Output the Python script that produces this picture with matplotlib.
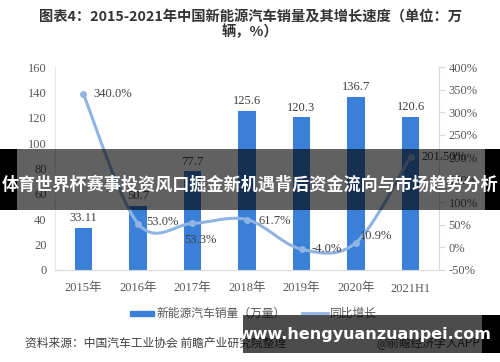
import numpy as np
import matplotlib
matplotlib.use("Agg")
import matplotlib.pyplot as plt
from matplotlib.patches import Rectangle
from matplotlib.lines import Line2D

categories = ["2015年", "2016年", "2017年", "2018年", "2019年", "2020年", "2021H1"]
sales = [33.11, 50.7, 77.7, 125.6, 120.3, 136.7, 120.6]
growth = [340.0, 53.0, 53.3, 61.7, -4.0, 10.9, 201.5]
sales_labels = ["33.11", "50.7", "77.7", "125.6", "120.3", "136.7", "120.6"]
growth_labels = ["340.0%", "53.0%", "53.3%", "61.7%", "-4.0%", "10.9%", "201.50%"]
left_ticks = [0, 20, 40, 60, 80, 100, 120, 140, 160]
right_ticks = [-50, 0, 50, 100, 150, 200, 250, 300, 350, 400]

title = "图表4：2015-2021年中国新能源汽车销量及其增长速度（单位：万\n辆，%）"
banner = "体育世界杯赛事投资风口掘金新机遇背后资金流向与市场趋势分析"
site = "www.hengyuanzuanpei.com"
source = "资料来源：中国汽车工业协会 前瞻产业研究院整理"
brand = "@前瞻经济学人APP"
legend_bar = "新能源汽车销量（万量）"
legend_line = "同比增长"

W, H = 500, 362
CJK = ["Noto Sans CJK SC", "DejaVu Sans"]
SERIF = ["Liberation Serif", "Noto Sans CJK SC"]
plt.rcParams["font.family"] = CJK

fig = plt.figure(figsize=(W / 100, H / 100), dpi=100)
fig.patch.set_facecolor("white")

def fx(px):
    return px / W

def fy(py):
    return 1 - py / H

ax_l, ax_r, ax_t, ax_b = 55, 439, 67, 270
ax = fig.add_axes([fx(ax_l), fy(ax_b), fx(ax_r - ax_l), (ax_b - ax_t) / H])
ax2 = ax.twinx()

x = np.arange(len(categories))
bar_color = "#3b80d8"
line_color = "#8fb4e3"
gray = "#595959"

ax.bar(x, sales, width=0.32, color=bar_color, zorder=2)
ax.set_ylim(0, 160)
ax.set_yticks(left_ticks)
ax.set_xlim(-0.52, 6.52)
ax.set_xticks(x)
ax.set_xticklabels(categories, family=SERIF, fontsize=9, color=gray)
ax.set_yticklabels([str(t) for t in left_ticks], family=SERIF, fontsize=9, color=gray)
ax.tick_params(axis="both", length=0, pad=6)
ax.tick_params(axis="x", pad=9)
for s in ["top", "right"]:
    ax.spines[s].set_visible(False)
ax.spines["left"].set_color("#e6e6e6")
ax.spines["bottom"].set_color("#d9d9d9")
for i, (v, lab) in enumerate(zip(sales, sales_labels)):
    ax.text(i, v + 3, lab, ha="center", va="bottom", fontsize=9, color="#404040", family=SERIF)

# Catmull-Rom smoothed line through the data points
def catmull(xs, ys, n=20):
    px = np.concatenate([[xs[0]], xs, [xs[-1]]])
    py = np.concatenate([[ys[0]], ys, [ys[-1]]])
    ox, oy = [], []
    for i in range(1, len(px) - 2):
        t = np.linspace(0, 1, n)
        for arr, out in ((px, ox), (py, oy)):
            p0, p1, p2, p3 = arr[i - 1], arr[i], arr[i + 1], arr[i + 2]
            out.extend(0.5 * ((2 * p1) + (-p0 + p2) * t + (2 * p0 - 5 * p1 + 4 * p2 - p3) * t ** 2
                              + (-p0 + 3 * p1 - 3 * p2 + p3) * t ** 3))
    return np.array(ox), np.array(oy)

sx, sy = catmull(x.astype(float), np.array(growth, dtype=float))
ax2.plot(sx, sy, color=line_color, lw=2.2, zorder=3)
ax2.plot(x, growth, "o", color=line_color, ms=4, zorder=4)
ax2.set_ylim(-50, 400)
ax2.set_yticks(right_ticks)
ax2.set_yticklabels([f"{t}%" for t in right_ticks], family=SERIF, fontsize=9, color=gray)
ax2.tick_params(axis="y", length=4, color="#d9d9d9", pad=3)
for s in ["top", "left", "bottom"]:
    ax2.spines[s].set_visible(False)
ax2.spines["right"].set_color("#d9d9d9")

offsets = [(7, 0, "left", "center"), (6, 1, "left", "center"), (-6, -12, "left", "center"),
           (8, -1, "left", "center"), (7, 0, "left", "center"), (3, 5, "left", "center"),
           (8, 0, "left", "center")]
for i, (g, lab) in enumerate(zip(growth, growth_labels)):
    dx, dy, ha, va = offsets[i]
    ax2.annotate(lab, (i, g), xytext=(dx, dy), textcoords="offset points", ha=ha, va=va,
                 fontsize=9, color="#404040", family=SERIF, zorder=5)

# title
fig.text(0.5, fy(25), title, ha="center", va="center", fontsize=10.3, fontweight="bold",
         color="#333333", linespacing=0.95)

# legend
fig.patches.append(Rectangle((fx(130), fy(315.5)), fx(24), 5 / H, transform=fig.transFigure,
                             color=bar_color))
fig.text(fx(157), fy(313), legend_bar, ha="left", va="center", fontsize=8.5, color=gray)
fig.lines.append(Line2D([fx(302), fx(328)], [fy(313), fy(313)], transform=fig.transFigure,
                        color=line_color, lw=2))
fig.text(fx(330), fy(313), legend_line, ha="left", va="center", fontsize=8.5, color=gray)

# source
fig.text(fx(25), fy(343), source, ha="left", va="center", fontsize=8.5, color="#404040")
fig.text(fx(480), fy(343), brand, ha="right", va="center", fontsize=8.5, color="#404040")

# banner overlay
by0, by1 = 149, 210
fig.patches.append(Rectangle((0, fy(by1)), 1, (by1 - by0) / H, transform=fig.transFigure,
                             facecolor="black", alpha=0.62, zorder=10))
fig.patches.append(Rectangle((0, fy(by1)), fx(17), (by1 - by0) / H, transform=fig.transFigure,
                             facecolor="black", zorder=10))
fig.patches.append(Rectangle((fx(485), fy(by1)), fx(15), (by1 - by0) / H,
                             transform=fig.transFigure, facecolor="black", zorder=10))
fig.text(0.5, fy(184), banner, ha="center", va="center", fontsize=12.3, fontweight="bold",
         color="white", zorder=11)

# site box
fig.patches.append(Rectangle((fx(243), fy(353)), fx(239), 38 / H, transform=fig.transFigure,
                             facecolor="black", alpha=0.7, zorder=10))
fig.patches.append(Rectangle((fx(482), fy(353)), fx(18), 38 / H, transform=fig.transFigure,
                             facecolor="black", zorder=10))
fig.text(fx(365), fy(334), site, ha="center", va="center", fontsize=11.5, fontweight="bold",
         color="white", family=["DejaVu Sans"], zorder=11)

fig.savefig("out.png", dpi=100)
